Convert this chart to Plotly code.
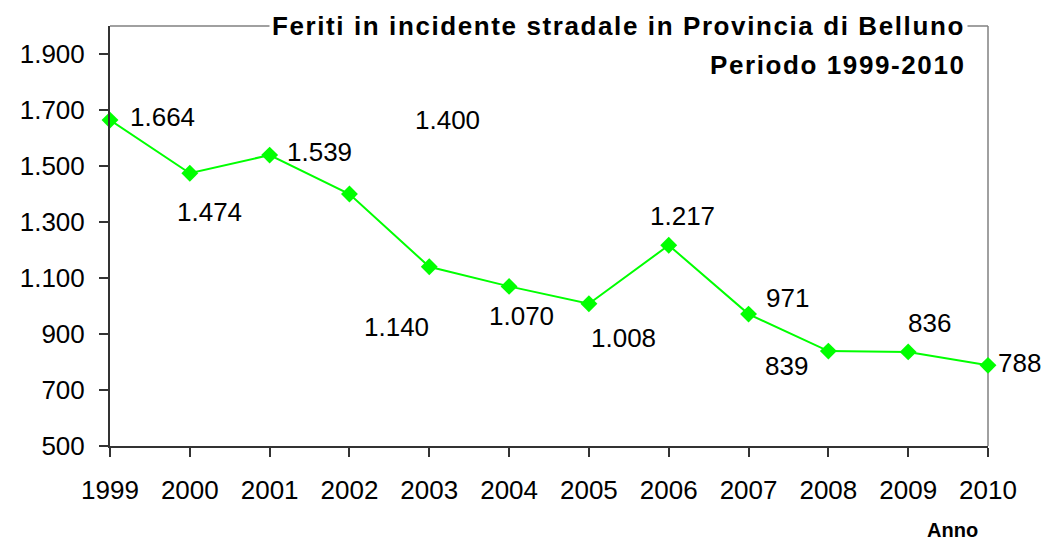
import plotly.graph_objects as go

years = [1999, 2000, 2001, 2002, 2003, 2004, 2005, 2006, 2007, 2008, 2009, 2010]
feriti = [1664, 1474, 1539, 1400, 1140, 1070, 1008, 1217, 971, 839, 836, 788]
y_ticks = [500, 700, 900, 1100, 1300, 1500, 1700, 1900]
y_ticktext = [f"{v:,}".replace(",", ".") for v in y_ticks]
title_line1 = "Feriti in incidente stradale in Provincia di Belluno"
title_line2 = "Periodo 1999-2010"
x_title = "Anno"

# label offsets (pixels) relative to each point, as in the original
label_dx = [52, 20, 50, 98, -33, 12, 35, 14, 39, -42, 21, 31]
label_dy = [3, -39, 3, 74, -60, -30, -34, 29, 16, -15, 29, 2]

FONT = "Liberation Sans, Arial, sans-serif"
GREEN = "#00FF00"
SPACED = '<span style="letter-spacing:1.6px">{}</span>'

fig = go.Figure()
fig.add_trace(go.Scatter(
    x=years, y=feriti, mode="lines+markers",
    line=dict(color=GREEN, width=2),
    marker=dict(symbol="diamond", size=13, color=GREEN),
    cliponaxis=False, showlegend=False,
))

annotations = []
for x, v, dx, dy in zip(years, feriti, label_dx, label_dy):
    annotations.append(dict(
        x=x, y=v, xref="x", yref="y", text=f"{v:,}".replace(",", "."),
        showarrow=False, xshift=dx, yshift=dy,
        font=dict(family=FONT, size=26, color="black"),
        xanchor="center", yanchor="middle",
    ))

annotations.append(dict(
    x=0.977, y=1.0, xref="paper", yref="paper",
    text="<b>" + SPACED.format(title_line1) + "</b>",
    showarrow=False, xanchor="right", yanchor="middle", bgcolor="white",
    borderpad=2, font=dict(family=FONT, size=26, color="black"),
))
annotations.append(dict(
    x=0.977, y=0.907, xref="paper", yref="paper",
    text="<b>" + SPACED.format(title_line2) + "</b>",
    showarrow=False, xanchor="right", yanchor="middle",
    font=dict(family=FONT, size=26, color="black"),
))
annotations.append(dict(
    x=0.959, y=-0.2, xref="paper", yref="paper", text=f"<b>{x_title}</b>",
    showarrow=False, xanchor="center", yanchor="middle",
    font=dict(family=FONT, size=20, color="black"),
))

shapes = [
    dict(type="line", xref="x domain", yref="y domain", x0=0, x1=1, y0=1, y1=1,
         line=dict(color="#808080", width=1.5), layer="above"),
    dict(type="line", xref="x domain", yref="y domain", x0=1, x1=1, y0=0, y1=1,
         line=dict(color="#808080", width=1.5), layer="below"),
]

fig.update_layout(
    width=1042, height=533,
    margin=dict(l=100, r=62, t=18, b=95),
    paper_bgcolor="white", plot_bgcolor="white",
    font=dict(family=FONT, size=26, color="black"),
    annotations=annotations, shapes=shapes,
)
fig.update_xaxes(
    range=[1999, 2010], tickvals=years, ticktext=[str(y) for y in years],
    showgrid=False, zeroline=False, showline=True, linecolor="#333333", linewidth=2,
    ticks="outside", ticklen=9, tickcolor="#333333", tickwidth=1.5,
    ticklabelstandoff=11, tickfont=dict(family=FONT, size=26, color="black"),
)
fig.update_yaxes(
    range=[500, 2000], tickvals=y_ticks, ticktext=y_ticktext,
    showgrid=False, zeroline=False, showline=True, linecolor="#333333", linewidth=2,
    ticks="outside", ticklen=9, tickcolor="#333333", tickwidth=1.5,
    ticklabelstandoff=9, tickfont=dict(family=FONT, size=26, color="black"),
)

fig.write_html("out.html")
